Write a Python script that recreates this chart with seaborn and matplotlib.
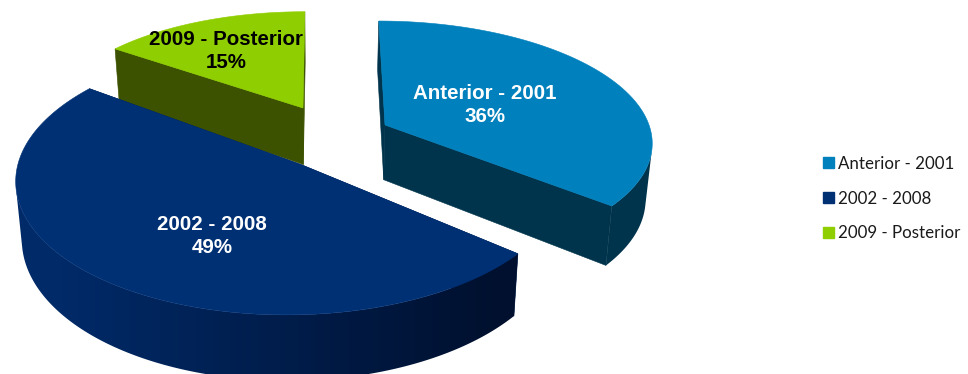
import numpy as np
import matplotlib
matplotlib.use("Agg")
import matplotlib.pyplot as plt
from matplotlib.patches import Patch, Polygon
import seaborn as sns

# Shares of the pie, clockwise from twelve o'clock
categories = ["Anterior - 2001", "2002 - 2008", "2009 - Posterior"]
shares = [36, 49, 15]

top_colors = ["#0080BC", "#003074", "#8FCE00"]
cut_colors = ["#00344C", "#001A48", "#3D5200"]
rim_left = ["#00344C", "#002A68", "#3D5200"]
rim_right = ["#00344C", "#00102E", "#3D5200"]
text_colors = ["white", "white", "black"]

# Perspective camera: vanishing point of depth lines and bottom-face shrink
VX, VY, HORIZON = 321.0, -812.0, 976.0
SHRINK = 0.98

# Exploded slice placement: apex in pixels, rim offset from apex, radius, tilt, thickness
apexes = [(385.0, 125.0), (302.0, 165.0), (303.0, 108.0)]
rim_shift = [1.0, -11.0, 0.0]
rim_lift = [0.0, 4.0, 0.0]
radii = [274.0, 273.0, 265.0]
tilts = [0.130, 0.137, 0.124]
thickness = [57.0, 57.0, 60.0]
label_xy = [(485, 105), (212, 236), (226, 51)]
draw_order = [2, 1, 0]


def project(i, theta):
    """Map rim angles of a slice to pixel positions on its top face."""
    apex = apexes[i]
    s0 = (apex[1] - rim_lift[i] - VY) / HORIZON
    xw = (apex[0] - VX) / s0 + rim_shift[i] + radii[i] * np.cos(theta)
    s = 1.0 / (1.0 / s0 + tilts[i] * np.sin(theta))
    return VX + xw * s, VY + HORIZON * s


def drop(i, x, y):
    """Move a top-face point down to the bottom face of the pie."""
    s = (y - VY) / HORIZON
    return VX + (x - VX) * SHRINK, y + thickness[i] * s


def draw_slice(ax, i, start, stop, base):
    apex = apexes[i]
    theta = np.radians(np.linspace(start, stop, 400))
    x, y = project(i, theta)
    xb, yb = drop(i, x, y)
    apex_b = drop(i, *apex)

    # Straight cut faces that look towards the viewer
    for end in (0, -1):
        face = [apex, (x[end], y[end]), (xb[end], yb[end]), apex_b]
        ax.add_patch(Polygon(face, closed=True, fc=cut_colors[i], ec=cut_colors[i], lw=0.4, zorder=base))

    # Curved outer wall: only the stretch of rim turned towards the viewer,
    # shaded left to right through a clipped gradient
    facing = (x[1:] - x[:-1]) * (yb[:-1] - y[:-1]) - (y[1:] - y[:-1]) * (xb[:-1] - x[:-1]) < 0
    if facing.any():
        keep = np.flatnonzero(facing)
        k0, k1 = keep[0], keep[-1] + 2
        wall = Polygon(list(zip(x[k0:k1], y[k0:k1])) + list(zip(xb[k0:k1][::-1], yb[k0:k1][::-1])),
                       closed=True, fc="none", ec="none", zorder=base)
        ax.add_patch(wall)
        cmap = sns.blend_palette([rim_left[i], rim_right[i]], as_cmap=True)
        ramp = np.clip((np.arange(968) - 60.0) / 440.0, 0, 1)[None, :]
        image = ax.imshow(ramp, cmap=cmap, extent=(0, 968, 400, -20), aspect="auto", vmin=0, vmax=1, zorder=base + 1)
        image.set_clip_path(wall)

    # Top face
    outline = [apex] + list(zip(x, y))
    ax.add_patch(Polygon(outline, closed=True, fc=top_colors[i], ec=top_colors[i], lw=0.4, zorder=base + 2))


sns.set_theme(style="white")
fig = plt.figure(figsize=(9.68, 3.74), dpi=100)
ax = fig.add_axes([0, 0, 1, 1])
ax.set_axis_off()

angles = 90.0 - 3.6 * np.cumsum([0] + shares)
for rank, i in enumerate(draw_order):
    draw_slice(ax, i, angles[i], angles[i + 1], base=rank * 10)
ax.set_xlim(0, 968)
ax.set_ylim(374, 0)

for i, (name, share) in enumerate(zip(categories, shares)):
    ax.text(*label_xy[i], f"{name}\n{share}%", ha="center", va="center", color=text_colors[i],
            fontsize=14.8, fontweight="bold", family="Liberation Sans", linespacing=1.22, zorder=50)

handles = [Patch(fc=c, ec=c, label=n) for c, n in zip(top_colors, categories)]
fig.legend(handles=handles, loc="center left", bbox_to_anchor=(0.850, 0.469), frameon=False,
           prop={"family": "Lato", "size": 12.2}, labelcolor="#1a1a1a", handlelength=0.65,
           handleheight=0.65, handletextpad=0.25, labelspacing=1.11, borderpad=0, borderaxespad=0)

fig.savefig("out.png", dpi=100)
